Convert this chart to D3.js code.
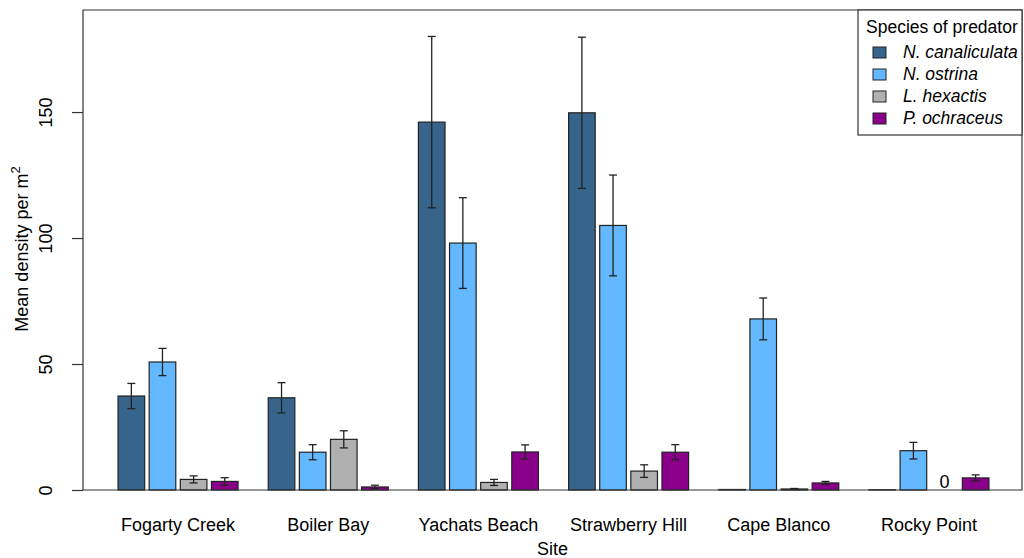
<!DOCTYPE html>
<html>
<head>
<meta charset="utf-8">
<script src="https://cdn.jsdelivr.net/npm/d3@7"></script>
<style>
  body { margin: 0; background: #fff; }
  text { font-family: "Liberation Sans", Arial, sans-serif; fill: #000; }
</style>
</head>
<body>
<div id="chart"></div>
<script>
const sites = ["Fogarty Creek", "Boiler Bay", "Yachats Beach", "Strawberry Hill", "Cape Blanco", "Rocky Point"];
const species = ["N. canaliculata", "N. ostrina", "L. hexactis", "P. ochraceus"];
const colorList = ["#36648B", "#63B8FF", "#B0B0B0", "#8B008B"];

// mean density per species, one value per site
const canaliculata = [37.3, 36.6, 146, 149.7, 0.2, 0.1];
const ostrina = [50.8, 15.0, 98, 105, 67.9, 15.6];
const hexactis = [4.2, 20.1, 3.0, 7.5, 0.4, 0];
const ochraceus = [3.4, 1.2, 15.1, 15, 2.8, 4.8];

// standard errors
const seCanaliculata = [5, 6, 34, 30, 0, 0];
const seOstrina = [5.4, 3, 18, 20, 8.3, 3.3];
const seHexactis = [1.4, 3.4, 1.2, 2.5, 0.2, 0];
const seOchraceus = [1.5, 0.7, 2.8, 3, 0.6, 1.2];

const yTicks = [0, 50, 100, 150];

const means = [canaliculata, ostrina, hexactis, ochraceus];
const ses = [seCanaliculata, seOstrina, seHexactis, seOchraceus];

const data = [];
sites.forEach((s, i) => {
  species.forEach((sp, j) => {
    data.push({ site: s, species: sp, value: means[j][i], se: ses[j][i] });
  });
});

const W = 1024, H = 558;
const pLeft = 83, pRight = 1022, pTop = 10, pBottom = 490;

const svg = d3.select("#chart").append("svg")
  .attr("width", W).attr("height", H);

const x = d3.scaleBand()
  .domain(sites)
  .range([pLeft + 2, pRight])
  .paddingInner(0.201)
  .paddingOuter(0.22);

const xs = d3.scaleBand()
  .domain(species)
  .range([0, x.bandwidth()])
  .paddingInner(0.145)
  .paddingOuter(0);

const y = d3.scaleLinear()
  .domain([0, 190.5])
  .range([pBottom, pTop]);

const color = d3.scaleOrdinal().domain(species).range(colorList);

// bars
svg.append("g").selectAll("rect")
  .data(data.filter(d => d.value > 0))
  .join("rect")
  .attr("x", d => x(d.site) + xs(d.species))
  .attr("y", d => y(d.value))
  .attr("width", xs.bandwidth())
  .attr("height", d => y(0) - y(d.value))
  .attr("fill", d => color(d.species))
  .attr("stroke", "#222")
  .attr("stroke-width", 1.2);

// error bars
const eb = svg.append("g")
  .attr("stroke", "#222")
  .attr("stroke-width", 1.3)
  .selectAll("g")
  .data(data.filter(d => d.se > 0))
  .join("g")
  .attr("transform", d => `translate(${x(d.site) + xs(d.species) + xs.bandwidth() / 2},0)`);
eb.append("line")
  .attr("y1", d => y(d.value - d.se)).attr("y2", d => y(d.value + d.se));
eb.append("line")
  .attr("x1", -4).attr("x2", 4)
  .attr("y1", d => y(d.value + d.se)).attr("y2", d => y(d.value + d.se));
eb.append("line")
  .attr("x1", -4).attr("x2", 4)
  .attr("y1", d => y(d.value - d.se)).attr("y2", d => y(d.value - d.se));

// zero label
svg.append("g").selectAll("text")
  .data(data.filter(d => d.value === 0))
  .join("text")
  .attr("x", d => x(d.site) + xs(d.species) + xs.bandwidth() / 2)
  .attr("y", d => y(0) - 2)
  .attr("text-anchor", "middle")
  .style("font-size", "18px")
  .text("0");

// frame
svg.append("path")
  .attr("d", `M${pLeft},${pBottom}V${pTop}H${pRight}V${pBottom}Z`)
  .attr("fill", "none")
  .attr("stroke", "#333")
  .attr("stroke-width", 1.2);

// y axis
const yAxis = svg.append("g")
  .attr("transform", `translate(${pLeft},0)`)
  .call(d3.axisLeft(y).tickValues(yTicks).tickSize(11).tickPadding(0).tickFormat(d3.format("d")));
yAxis.select(".domain").remove();
yAxis.selectAll("line").attr("stroke", "#333").attr("stroke-width", 1.2);
yAxis.selectAll("text")
  .attr("x", null).attr("dy", null)
  .attr("transform", "translate(-31,0) rotate(-90)")
  .attr("text-anchor", "middle")
  .style("font-size", "18px");

// x axis labels
const xAxis = svg.append("g")
  .attr("transform", `translate(0,${pBottom})`)
  .call(d3.axisBottom(x).tickSize(0).tickPadding(28));
xAxis.select(".domain").remove();
xAxis.selectAll("text").style("font-size", "18px");

// axis titles
svg.append("text")
  .attr("x", (pLeft + pRight) / 2)
  .attr("y", 555)
  .attr("text-anchor", "middle")
  .style("font-size", "18px")
  .text("Site");

const yt = svg.append("text")
  .attr("transform", `translate(28,${249}) rotate(-90)`)
  .attr("text-anchor", "middle")
  .style("font-size", "18px");
yt.append("tspan").text("Mean density per m");
yt.append("tspan").attr("dy", -8).style("font-size", "13px").text("2");

// legend
const lg = svg.append("g");
lg.append("rect")
  .attr("x", 858).attr("y", pTop)
  .attr("width", pRight - 858).attr("height", 125)
  .attr("fill", "#fff")
  .attr("stroke", "#333")
  .attr("stroke-width", 1.2);
lg.append("text")
  .attr("x", 866).attr("y", 33)
  .style("font-size", "17.5px")
  .text("Species of predator");
const items = lg.selectAll(".item")
  .data(species)
  .join("g")
  .attr("transform", (d, i) => `translate(873,${58 + i * 22})`);
items.append("rect")
  .attr("x", 0).attr("y", -11)
  .attr("width", 13).attr("height", 11)
  .attr("fill", d => color(d))
  .attr("stroke", "#222");
items.append("text")
  .attr("x", 30).attr("y", 0)
  .style("font-size", "17.5px")
  .style("font-style", "italic")
  .text(d => d);
</script>
</body>
</html>
